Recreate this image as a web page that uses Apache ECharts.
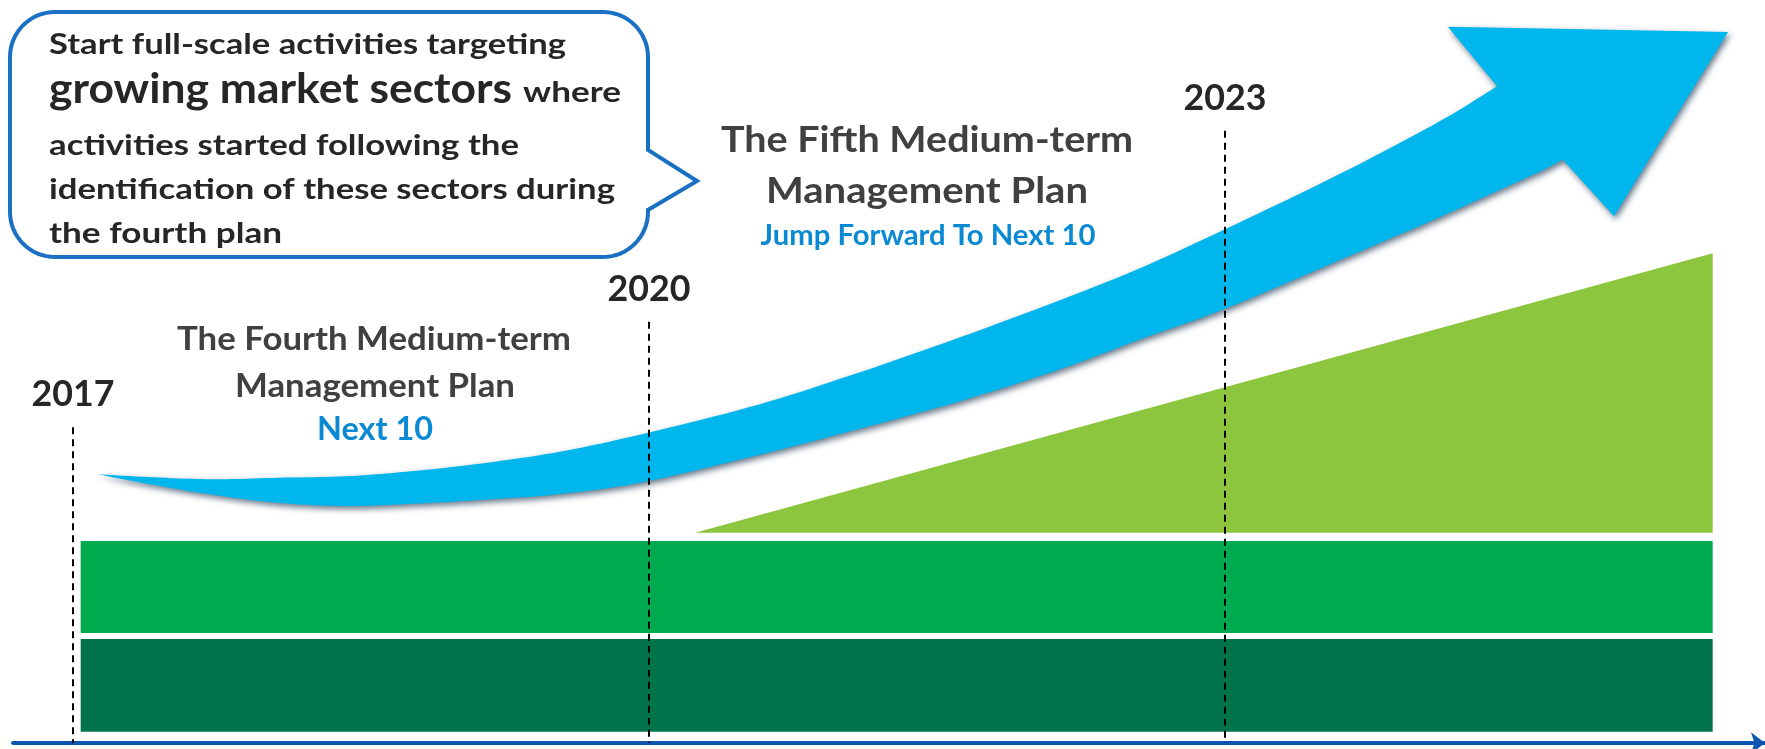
<!DOCTYPE html>
<html>
<head>
<meta charset="utf-8">
<script src="https://cdn.jsdelivr.net/npm/echarts@6/dist/echarts.min.js"></script>
<style>
html,body{margin:0;padding:0;background:#fff;}
#chart{width:1765px;height:749px;}
</style>
</head>
<body>
<div id="chart"></div>
<script>
// ---- data ----
const years = [2017, 2020, 2023];
const yearLabels = ['2017', '2020', '2023'];
const markerTops = [42.5, 56.7, 82.4];

const bandStart = 2017.04;
const bandEnd = 2025.54;
const darkBand = [bandStart, bandEnd, 1.5, 14.0];
const greenBand = [bandStart, bandEnd, 14.8, 27.2];
const growthWedge = [[2020.24, 28.3], [2025.54, 65.9], [2025.54, 28.3]];

const arrowTopEdge = [
  [2017.125, 36.2], [2017.385, 35.8], [2017.729, 35.5], [2018.078, 35.7],
  [2018.427, 35.9], [2018.771, 36.6], [2019.120, 37.6], [2019.536, 39.2],
  [2019.969, 41.6], [2020.578, 45.6], [2021.099, 49.9], [2021.620, 54.6],
  [2022.141, 59.6], [2022.557, 63.9], [2023.005, 69.2], [2023.599, 76.6],
  [2024.120, 83.7], [2024.417, 88.4]
];
const arrowHead = [[2024.161, 96.4], [2025.620, 95.7], [2025.026, 70.9], [2024.760, 78.5]];
const arrowBottomEdge = [
  [2024.641, 76.9], [2024.120, 70.8], [2023.599, 65.0], [2023.005, 58.5],
  [2022.557, 54.3], [2022.141, 50.3], [2021.620, 46.0], [2021.099, 42.3],
  [2020.578, 38.8], [2019.969, 35.1], [2019.536, 33.5], [2019.120, 32.7],
  [2018.771, 32.2], [2018.427, 31.9], [2018.078, 32.3], [2017.729, 33.4],
  [2017.385, 34.9], [2017.125, 36.2]
];

const fourthPlanTitle = ['The Fourth Medium-term', 'Management Plan'];
const fourthPlanSlogan = 'Next 10';
const fifthPlanTitle = ['The Fifth Medium-term', 'Management Plan'];
const fifthPlanSlogan = 'Jump Forward To Next 10';

const calloutLine1 = 'Start full-scale activities targeting';
const calloutEmphasis = 'growing market sectors';
const calloutLine2Tail = 'where';
const calloutRest = ['activities started following the', 'identification of these sectors during', 'the fourth plan'];

// ---- helpers ----
function catmull(pts, steps) {
  const out = [];
  for (let i = 0; i < pts.length - 1; i++) {
    const p0 = pts[i - 1] || pts[i], p1 = pts[i], p2 = pts[i + 1], p3 = pts[i + 2] || pts[i + 1];
    for (let s = 0; s < steps; s++) {
      const t = s / steps, t2 = t * t, t3 = t2 * t;
      const f = (a, b, c, d) => 0.5 * ((2 * b) + (-a + c) * t + (2 * a - 5 * b + 4 * c - d) * t2 + (-a + 3 * b - 3 * c + d) * t3);
      out.push([f(p0[0], p1[0], p2[0], p3[0]), f(p0[1], p1[1], p2[1], p3[1])]);
    }
  }
  out.push(pts[pts.length - 1]);
  return out;
}

function arcPts(cx, cy, r, a0, a1, n) {
  const out = [];
  for (let i = 0; i <= n; i++) {
    const a = a0 + (a1 - a0) * i / n;
    out.push([cx + r * Math.cos(a), cy + r * Math.sin(a)]);
  }
  return out;
}

function bubblePoints(L, T, R, B, r, pTop, pTip, pBottom) {
  const P = Math.PI;
  let pts = [];
  pts = pts.concat(arcPts(R - r, T + r, r, -P / 2, 0, 16));
  pts.push([R, pTop], pTip, [R, pBottom]);
  pts = pts.concat(arcPts(R - r, B - r, r, 0, P / 2, 16));
  pts = pts.concat(arcPts(L + r, B - r, r, P / 2, P, 16));
  pts = pts.concat(arcPts(L + r, T + r, r, P, 1.5 * P, 16));
  return pts;
}

const FONT = 'Lato, "Open Sans", sans-serif';
const measureCtx = document.createElement('canvas').getContext('2d');
function widthScale(text, font, target) {
  measureCtx.font = font;
  const w = measureCtx.measureText(text).width;
  return w > 0 ? target / w : 1;
}

const chart = echarts.init(document.getElementById('chart'), null, {renderer: 'canvas'});

const rectSeries = (band, color, z) => ({
  type: 'custom', z: z, clip: false, silent: true,
  data: [band],
  renderItem: function (params, api) {
    const a = api.coord([api.value(0), api.value(3)]);
    const b = api.coord([api.value(1), api.value(2)]);
    return {type: 'rect', shape: {x: a[0], y: a[1], width: b[0] - a[0], height: b[1] - a[1]}, style: {fill: color}};
  }
});

const textEl = (x, y, text, size, fill, align, target) => {
  const font = 'bold ' + size + 'px ' + FONT;
  return {
    type: 'text', z: 11, x: x, y: y, scaleX: target ? widthScale(text, font, target) : 1,
    style: {text: text, font: font, fill: fill, align: align || 'left', verticalAlign: 'middle'}
  };
};

const option = {
  animation: false,
  backgroundColor: '#ffffff',
  grid: {left: 13, right: 0, top: 0, bottom: 6},
  xAxis: {
    type: 'value', min: 2016.6875, max: 2025.8125,
    axisLine: {show: true, lineStyle: {color: '#0a56b0', width: 4}, symbol: ['none', 'arrow'], symbolSize: [16, 14]},
    axisTick: {show: false}, axisLabel: {show: false}, splitLine: {show: false}
  },
  yAxis: {type: 'value', min: 0, max: 100, show: false, splitLine: {show: false}},
  series: [
    rectSeries(darkBand, '#00734a', 1),
    rectSeries(greenBand, '#00aa4e', 1),
    {
      type: 'custom', z: 2, clip: false, silent: true,
      data: [0],
      renderItem: function (params, api) {
        return {type: 'polygon', shape: {points: growthWedge.map(p => api.coord(p))}, style: {fill: '#8cc63f'}};
      }
    },
    {
      type: 'custom', z: 3, clip: false, silent: true,
      data: [0],
      renderItem: function (params, api) {
        const top = catmull(arrowTopEdge.map(p => api.coord(p)), 10);
        const head = arrowHead.map(p => api.coord(p));
        const bottom = catmull(arrowBottomEdge.map(p => api.coord(p)), 10);
        return {
          type: 'polygon',
          shape: {points: top.concat(head, bottom)},
          style: {fill: '#00b7ed', shadowBlur: 6, shadowColor: 'rgba(0,30,60,0.6)', shadowOffsetX: 2, shadowOffsetY: 3}
        };
      }
    },
    {
      type: 'custom', z: 4, clip: false, silent: true,
      data: years.map((y, i) => [y, markerTops[i]]),
      renderItem: function (params, api) {
        const t = api.coord([api.value(0), api.value(1)]);
        const b = api.coord([api.value(0), 0]);
        const label = yearLabels[params.dataIndex];
        const font = 'bold 37px ' + FONT;
        return {
          type: 'group',
          children: [
            {type: 'line', shape: {x1: t[0], y1: t[1], x2: b[0], y2: b[1]},
             style: {stroke: '#000', lineWidth: 2, lineDash: [7, 5]}},
            {type: 'text', x: t[0], y: t[1] - 33, scaleX: widthScale(label, font, 83),
             style: {text: label, font: font, fill: '#262626', align: 'center', verticalAlign: 'middle'}}
          ]
        };
      }
    }
  ],
  graphic: [
    {
      type: 'polygon', z: 10,
      shape: {points: bubblePoints(10, 12, 648, 257, 45, 150, [697, 181], 210)},
      style: {fill: '#ffffff', stroke: '#1a70c2', lineWidth: 4, lineJoin: 'miter'}
    },
    textEl(49, 45, calloutLine1, 29, '#262626', 'left', 517),
    textEl(49, 89, calloutEmphasis, 42, '#262626', 'left', 463),
    textEl(523, 93, calloutLine2Tail, 29, '#262626', 'left', 98),
    textEl(49, 146, calloutRest[0], 29, '#262626', 'left', 470),
    textEl(49, 190, calloutRest[1], 29, '#262626', 'left', 566),
    textEl(49, 234, calloutRest[2], 29, '#262626', 'left', 233),
    textEl(374, 340, fourthPlanTitle[0], 32, '#404040', 'center', 394),
    textEl(375, 387, fourthPlanTitle[1], 32, '#404040', 'center', 280),
    textEl(375, 430, fourthPlanSlogan, 32, '#0b8ad4', 'center', 116),
    textEl(927, 140, fifthPlanTitle[0], 37, '#404040', 'center', 412),
    textEl(927, 191, fifthPlanTitle[1], 37, '#404040', 'center', 322),
    textEl(928, 236, fifthPlanSlogan, 28, '#0b8ad4', 'center', 335)
  ]
};
chart.setOption(option);
</script>
</body>
</html>
